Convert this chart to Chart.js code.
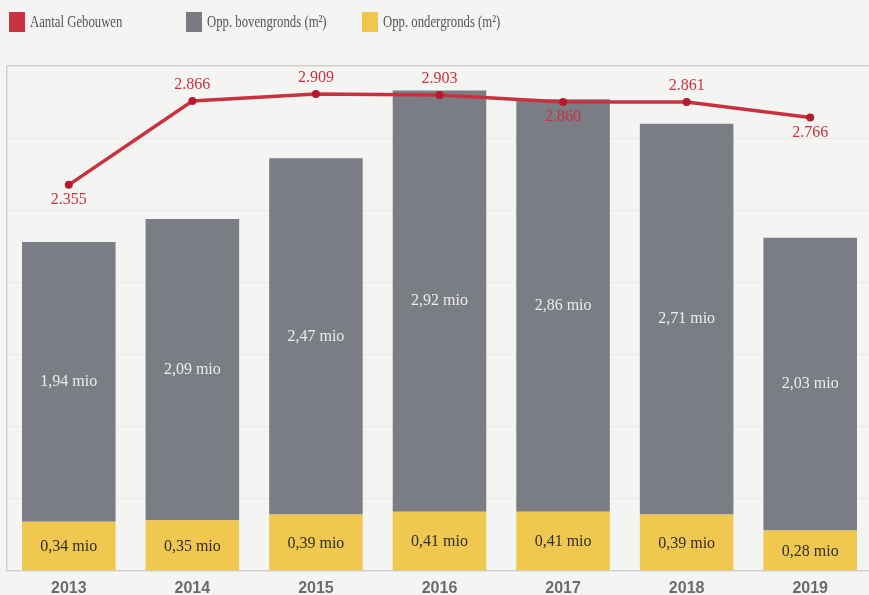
<!DOCTYPE html>
<html lang="nl">
<head>
  <meta charset="UTF-8" />
  <title>Gebouwen en oppervlakte</title>
  <script src="https://cdn.jsdelivr.net/npm/chart.js"></script>
  <style>
    html, body { margin: 0; padding: 0; background: #f4f4f2; overflow: hidden; width: 869px; height: 595px; }
    #legend { position: absolute; top: 12px; left: 0; height: 20px; font-family: "Liberation Serif", serif; font-size: 17px; color: #555; }
    .item { position: absolute; top: 0; white-space: nowrap; line-height: 20px; }
    .item span { display: inline-block; width: 16px; height: 20px; vertical-align: top; margin-right: 5px; }
    .item em { font-style: normal; display: inline-block; transform: scaleX(0.75); transform-origin: left center; }
    #wrap { position: absolute; left: 0; top: 0; width: 876px; height: 609px; }
  </style>
</head>
<body>

  <div id="wrap"><canvas id="chart"></canvas></div>

  <div id="legend">
    <div class="item" style="left:9px"><span style="background:#c8323f"></span><em>Aantal Gebouwen</em></div>
    <div class="item" style="left:186px"><span style="background:#7a7c84"></span><em>Opp. bovengronds (m²)</em></div>
    <div class="item" style="left:362px"><span style="background:#f0c64c"></span><em>Opp. ondergronds (m²)</em></div>
  </div>

<script>
const years = ['2013', '2014', '2015', '2016', '2017', '2018', '2019'];
const bovengronds = [1.94, 2.09, 2.47, 2.92, 2.86, 2.71, 2.03];   // mio m²
const ondergronds = [0.34, 0.35, 0.39, 0.41, 0.41, 0.39, 0.28];   // mio m²
const gebouwen = [2355, 2866, 2909, 2903, 2860, 2861, 2766];

// label onder (true) of boven (false) het punt
const labelBelow = [true, false, false, false, true, false, true];

const mio = v => v.toFixed(2).replace('.', ',') + ' mio';
const duizend = v => (v / 1000).toFixed(3);

const labelPlugin = {
  id: 'labels',
  afterDatasetsDraw(chart) {
    const c = chart.ctx;
    c.save();
    c.textAlign = 'center';
    c.textBaseline = 'middle';
    c.font = '16px "Liberation Serif", serif';

    chart.getDatasetMeta(1).data.forEach((bar, i) => {
      c.fillStyle = '#2f2f2f';
      c.fillText(mio(ondergronds[i]), bar.x, (bar.y + bar.base) / 2 + 1);
    });
    chart.getDatasetMeta(2).data.forEach((bar, i) => {
      c.fillStyle = '#ececec';
      c.fillText(mio(bovengronds[i]), bar.x, (bar.y + bar.base) / 2);
    });

    c.fillStyle = '#c8323f';
    chart.getDatasetMeta(0).data.forEach((pt, i) => {
      const dy = labelBelow[i] ? 15 : -16;
      c.fillText(duizend(gebouwen[i]), pt.x, pt.y + dy);
    });
    c.restore();
  }
};

const ctx = document.getElementById('chart').getContext('2d');

const chart = new Chart(ctx, {
  type: 'bar',
  data: {
    labels: years,
    datasets: [
      {
        type: 'line',
        label: 'Aantal Gebouwen',
        data: gebouwen,
        yAxisID: 'y1',
        borderColor: '#c8323f',
        borderWidth: 3.5,
        pointRadius: 4,
        pointBackgroundColor: '#b8182d',
        pointBorderWidth: 0,
        tension: 0,
        order: 0
      },
      {
        label: 'Opp. ondergronds (m²)',
        data: ondergronds,
        backgroundColor: '#f0c850',
        stack: 's',
        order: 1
      },
      {
        label: 'Opp. bovengronds (m²)',
        data: bovengronds,
        backgroundColor: '#7b7d85',
        stack: 's',
        order: 1
      }
    ]
  },
  options: {
    responsive: true,
    maintainAspectRatio: false,
    animation: false,
    layout: { padding: { top: 66, left: 7, right: 0, bottom: 3 } },
    datasets: {
      bar: { categoryPercentage: 0.757, barPercentage: 1 }
    },
    scales: {
      x: {
        stacked: true,
        grid: { display: false, drawTicks: false },
        border: { color: '#cfcfcf', width: 1.5 },
        ticks: {
          color: '#6b6b6b',
          padding: 8,
          font: { family: '"Liberation Sans", sans-serif', size: 16, weight: 'bold' }
        }
      },
      y: {
        stacked: true,
        min: 0,
        max: 3.5,
        ticks: { display: false, stepSize: 0.5 },
        grid: {
          drawTicks: false,
          color: c => (c.tick.value === 3.5 ? '#cfcfcf' : '#e9e9e6'),
          lineWidth: c => (c.tick.value === 3.5 ? 1.5 : 1)
        },
        border: { color: '#cfcfcf', width: 1.5 }
      },
      y1: {
        display: false,
        min: 0,
        max: 3080
      }
    },
    plugins: {
      legend: { display: false },
      tooltip: { enabled: false }
    }
  },
  plugins: [labelPlugin]
});
</script>

</body>
</html>
